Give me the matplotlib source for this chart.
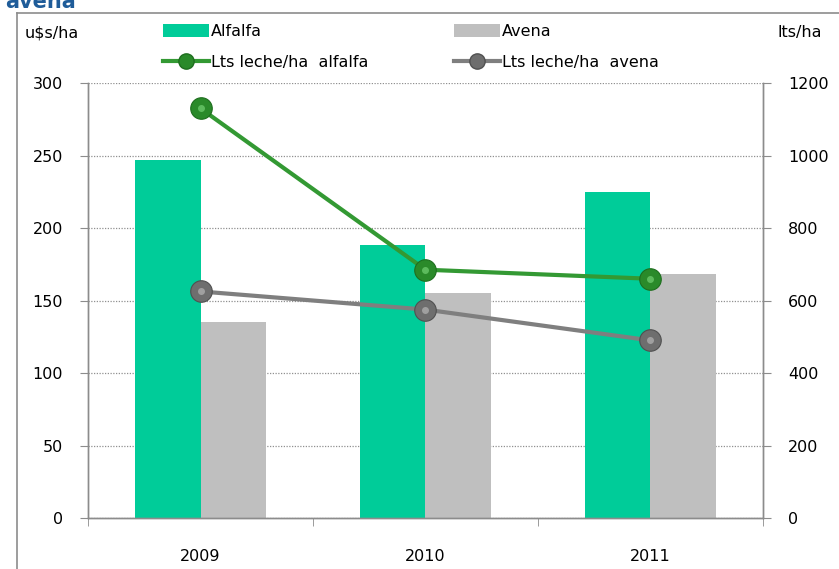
import matplotlib
matplotlib.use("Agg")
import matplotlib.pyplot as plt
from matplotlib.lines import Line2D
from matplotlib.patches import Patch
import numpy as np

years = ["2009", "2010", "2011"]
alfalfa_usd = [247, 188, 225]
avena_usd = [135, 155, 168]
alfalfa_lts = [1130, 685, 660]
avena_lts = [625, 575, 490]

plt.rcParams['font.family'] = ['DejaVu Sans']
FS = 11.5

fig = plt.figure(figsize=(8.39, 5.69), dpi=100)
ax = fig.add_axes([0.1049, 0.0896, 0.8045, 0.7645])
ax2 = ax.twinx()

x = np.arange(len(years))
w = 0.29
c_alf = "#00CC99"
c_ave = "#BFBFBF"
ax.bar(x - w / 2, alfalfa_usd, width=w, color=c_alf, zorder=2)
ax.bar(x + w / 2, avena_usd, width=w, color=c_ave, zorder=2)

ax.set_xlim(-0.5, 2.5)
ax.set_ylim(0, 300)
ax.set_yticks(np.arange(0, 301, 50))
ax2.set_ylim(0, 1200)
ax2.set_yticks(np.arange(0, 1201, 200))

ax.yaxis.grid(True, linestyle=(0, (1, 1.2)), color="#909090", linewidth=0.9, zorder=0)
ax.set_axisbelow(True)

g_line = "#339933"
g_mark = "#2A8A2A"
k_line = "#7F7F7F"
k_mark = "#6E6E6E"
ax2.plot(x, alfalfa_lts, color=g_line, linewidth=3, marker="o", markersize=15.5,
         markerfacecolor=g_mark, markeredgecolor="#1E6E1E", markeredgewidth=0.8, zorder=3)
ax2.plot(x, avena_lts, color=k_line, linewidth=3, marker="o", markersize=15.5,
         markerfacecolor=k_mark, markeredgecolor="#505050", markeredgewidth=0.8, zorder=3)
# highlight shine
ax2.plot(x, alfalfa_lts, linestyle="none", marker="o", markersize=4, color="#5DBB5D", zorder=4)
ax2.plot(x, avena_lts, linestyle="none", marker="o", markersize=4, color="#A0A0A0", zorder=4)

for a in (ax, ax2):
    a.spines["top"].set_visible(False)
    for s in ("left", "right", "bottom"):
        a.spines[s].set_color("#8C8C8C")
        a.spines[s].set_linewidth(1.0)

ax.set_xticks(x)
ax.set_xticklabels(years, fontsize=FS)
ax.set_xticks([-0.5, 0.5, 1.5, 2.5], minor=True)
ax.tick_params(axis="x", which="major", length=0, pad=22)
ax.tick_params(axis="x", which="minor", length=6, color="#8C8C8C", direction="out")
ax.tick_params(axis="y", length=6, color="#8C8C8C", direction="out", labelsize=FS, pad=12)
ax2.tick_params(axis="y", length=6, color="#8C8C8C", direction="out", labelsize=FS, pad=12)

fig.text(25 / 839, 1 - 33 / 569, "u$s/ha", fontsize=FS, ha="left", va="center")
fig.text(822 / 839, 1 - 33 / 569, "lts/ha", fontsize=FS, ha="right", va="center")

# partially visible title
fig.text(5 / 839, 1 - 2 / 569, "avena", fontsize=15, fontweight="bold", color="#1F5C99",
         ha="left", va="center")

# frame
fig.add_artist(Line2D([17 / 839, 17 / 839], [0, 1 - 13 / 569], transform=fig.transFigure,
                      color="#8C8C8C", linewidth=1.2))
fig.add_artist(Line2D([17 / 839, 1], [1 - 13 / 569, 1 - 13 / 569], transform=fig.transFigure,
                      color="#8C8C8C", linewidth=1.2))

handles = [
    Patch(facecolor=c_alf, edgecolor="none"),
    Line2D([], [], color=g_line, linewidth=3, marker="o", markersize=11,
           markerfacecolor=g_mark, markeredgecolor="#1E6E1E"),
    Patch(facecolor=c_ave, edgecolor="none"),
    Line2D([], [], color=k_line, linewidth=3, marker="o", markersize=11,
           markerfacecolor=k_mark, markeredgecolor="#505050"),
]
labels = ["Alfalfa", "Lts leche/ha  alfalfa", "Avena", "Lts leche/ha  avena"]
leg = fig.legend(handles, labels, ncol=2, loc="upper left",
                 bbox_to_anchor=(163 / 839, 1 - 24 / 569), frameon=False,
                 fontsize=FS, handlelength=2.9, handleheight=0.8, handletextpad=0.1,
                 columnspacing=5.35, labelspacing=1.0, borderaxespad=0, borderpad=0)

fig.savefig("out.png", dpi=100)
